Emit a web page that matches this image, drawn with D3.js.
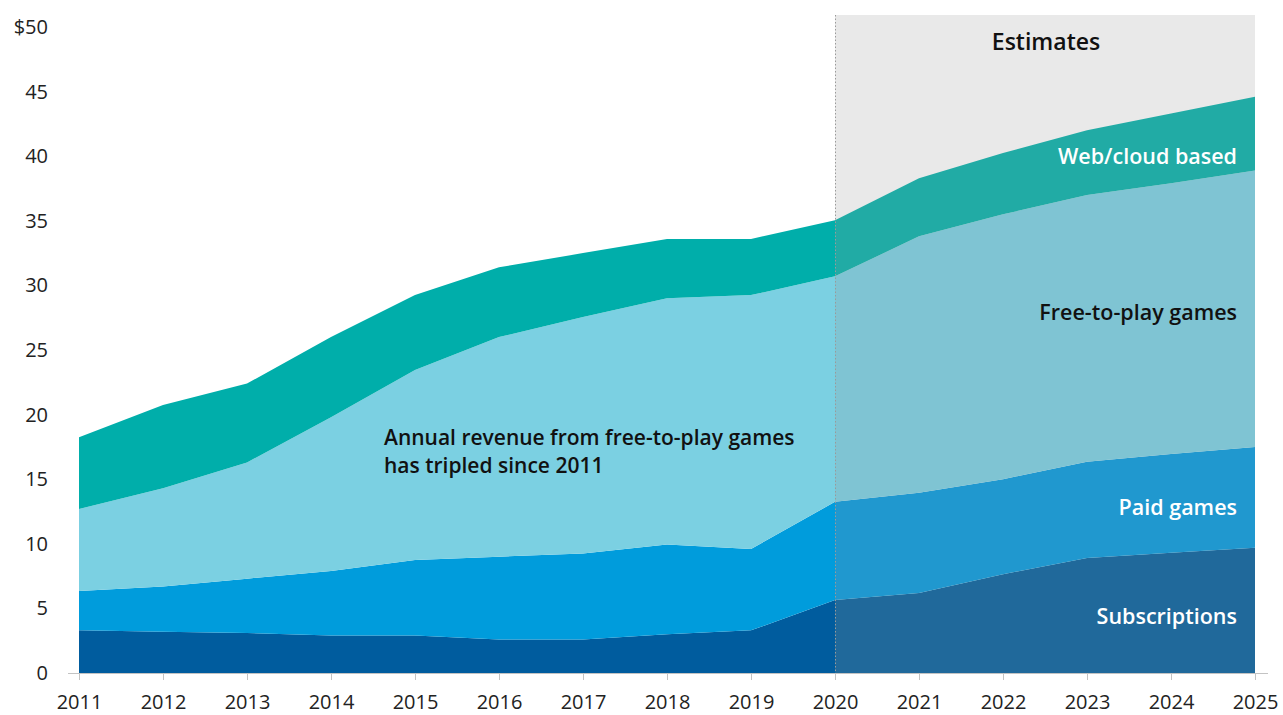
<!DOCTYPE html>
<html>
<head>
<meta charset="utf-8">
<script src="https://cdn.jsdelivr.net/npm/d3@7"></script>
<style>
  html, body { margin: 0; padding: 0; background: #fff; }
  svg { display: block; font-family: "Open Sans", Lato, sans-serif; }
</style>
</head>
<body>
<svg id="chart" width="1283" height="715"></svg>
<script>
// Years on the x axis; 2021 onward are estimates.
const years = [2011, 2012, 2013, 2014, 2015, 2016, 2017, 2018, 2019, 2020, 2021, 2022, 2023, 2024, 2025];
const estimateStart = 2020;

// Revenue by segment, $ billions (read from the picture, not stacked).
const subscriptions = [3.3, 3.2, 3.1, 2.9, 2.9, 2.6, 2.6, 3.0, 3.3, 5.65, 6.2, 7.65, 8.9, 9.3, 9.7];
const paidGames     = [3.05, 3.5, 4.2, 5.0, 5.85, 6.4, 6.65, 6.95, 6.3, 7.6, 7.75, 7.35, 7.45, 7.65, 7.8];
const freeToPlay    = [6.35, 7.6, 9.0, 11.9, 14.7, 17.0, 18.3, 19.05, 19.65, 17.45, 19.85, 20.5, 20.65, 20.95, 21.4];
const webCloud      = [5.55, 6.45, 6.1, 6.2, 5.8, 5.4, 4.95, 4.6, 4.35, 4.35, 4.5, 4.75, 5.0, 5.4, 5.7];

const seriesKeys   = ["subs", "paid", "free", "web"];
const seriesLabels = ["Subscriptions", "Paid games", "Free-to-play games", "Web/cloud based"];
const yTicks = [0, 5, 10, 15, 20, 25, 30, 35, 40, 45, 50];

const histColors = { subs: "#005c9e", paid: "#009cdc", free: "#7bd0e2", web: "#00aeaa" };
const estColors  = { subs: "#20699b", paid: "#2098cf", free: "#7fc4d3", web: "#21aba5" };

const rows = years.map((y, i) => ({
  year: y,
  subs: subscriptions[i],
  paid: paidGames[i],
  free: freeToPlay[i],
  web: webCloud[i]
}));

const svg = d3.select("#chart");
const x = d3.scaleLinear().domain([2011, 2025]).range([79, 1255]);
const y = d3.scaleLinear().domain([0, 50]).range([673, 27]);

const stacked = d3.stack().keys(seriesKeys)(rows);
const area = d3.area()
  .x((d) => x(d.data.year))
  .y0((d) => y(d[0]))
  .y1((d) => y(d[1]));

// Clip regions: history vs estimates.
const defs = svg.append("defs");
defs.append("clipPath").attr("id", "clip-hist")
  .append("rect").attr("x", 0).attr("y", 0).attr("width", x(estimateStart)).attr("height", 715);
defs.append("clipPath").attr("id", "clip-est")
  .append("rect").attr("x", x(estimateStart)).attr("y", 0).attr("width", x(2025) - x(estimateStart)).attr("height", 715);

// Estimates shaded background.
svg.append("rect")
  .attr("x", x(estimateStart))
  .attr("y", 15)
  .attr("width", x(2025) - x(estimateStart))
  .attr("height", y(0) - 15)
  .attr("fill", "#e9e9e9");

svg.append("g").attr("clip-path", "url(#clip-hist)")
  .selectAll("path").data(stacked).join("path")
  .attr("d", area)
  .attr("fill", (d) => histColors[d.key]);

svg.append("g").attr("clip-path", "url(#clip-est)")
  .selectAll("path").data(stacked).join("path")
  .attr("d", area)
  .attr("fill", (d) => estColors[d.key]);

// Dotted divider at the start of estimates.
svg.append("line")
  .attr("x1", x(estimateStart) + 0.5).attr("x2", x(estimateStart) + 0.5)
  .attr("y1", 15).attr("y2", y(0))
  .attr("stroke", "#9a9a9a")
  .attr("stroke-width", 1)
  .attr("stroke-dasharray", "1.5,2");

// X axis.
const xAxis = svg.append("g")
  .attr("transform", `translate(0,${y(0)})`)
  .call(d3.axisBottom(x).tickValues(years).tickFormat(d3.format("d")).tickSize(7).tickPadding(15));
xAxis.select(".domain").attr("d", `M68,0.5H1268`).attr("stroke", "#c3c3c3");
xAxis.selectAll(".tick line").attr("stroke", "#c3c3c3");
xAxis.selectAll(".tick text")
  .attr("fill", "#222")
  .style("font-size", "20px")
  .style("font-family", "'Open Sans', sans-serif");

// Y axis labels (no axis line).
const yAxis = svg.append("g")
  .attr("transform", "translate(48,0)")
  .call(d3.axisLeft(y).tickValues(yTicks).tickSize(0).tickPadding(0)
    .tickFormat((d) => (d === 50 ? "$50" : d)));
yAxis.select(".domain").remove();
yAxis.selectAll(".tick text")
  .attr("fill", "#222")
  .style("font-size", "20px")
  .style("font-family", "'Open Sans', sans-serif");

// Labels.
const label = (txt, px, py, fill, anchor, weight, size) =>
  svg.append("text")
    .attr("x", px).attr("y", py)
    .attr("text-anchor", anchor)
    .attr("dominant-baseline", "central")
    .attr("fill", fill)
    .style("font-size", size + "px")
    .style("font-weight", weight)
    .text(txt);

label("Estimates", 1046, 41, "#111", "middle", 600, 23);
label(seriesLabels[3], 1237, 155, "#fff", "end", 600, 21.5);
label(seriesLabels[2], 1237, 311, "#111", "end", 600, 21.5);
label(seriesLabels[1], 1237, 506, "#fff", "end", 600, 21.5);
label(seriesLabels[0], 1237, 615, "#fff", "end", 600, 21.5);

label("Annual revenue from free-to-play games", 384, 437, "#111", "start", 600, 21);
label("has tripled since 2011", 384, 465, "#111", "start", 600, 21);
</script>
</body>
</html>
